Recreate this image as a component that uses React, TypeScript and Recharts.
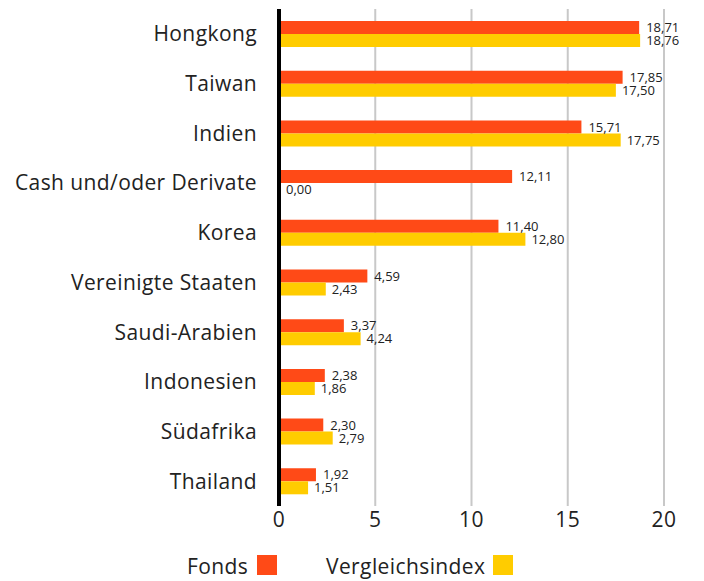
import { BarChart, Bar, XAxis, YAxis, CartesianGrid, Legend, LabelList } from 'recharts'

const CATEGORIES = [
  'Hongkong',
  'Taiwan',
  'Indien',
  'Cash und/oder Derivate',
  'Korea',
  'Vereinigte Staaten',
  'Saudi-Arabien',
  'Indonesien',
  'Südafrika',
  'Thailand',
]
const FONDS = [18.71, 17.85, 15.71, 12.11, 11.4, 4.59, 3.37, 2.38, 2.3, 1.92]
const INDEX = [18.76, 17.5, 17.75, 0.0, 12.8, 2.43, 4.24, 1.86, 2.79, 1.51]
const X_TICKS = [0, 5, 10, 15, 20]

const ORANGE = '#ff4a17'
const YELLOW = '#ffcc00'
const FONT = '"Open Sans", sans-serif'

const chartData = CATEGORIES.map((name, i) => ({ name, fonds: FONDS[i], index: INDEX[i] }))

const fmt = (v: unknown) => Number(v).toFixed(2).replace('.', ',')

const textStyle = { fontSize: 21, fill: '#222', fontFamily: FONT, letterSpacing: 0.4 }

function LegendBox() {
  return (
    <div
      style={{
        position: 'relative',
        height: 30,
        fontFamily: FONT,
        fontSize: 21,
        letterSpacing: 0.4,
        color: '#222',
        lineHeight: '28px',
      }}
    >
      <span style={{ position: 'absolute', left: 187, top: 2 }}>Fonds</span>
      <span style={{ position: 'absolute', left: 257, top: 5, width: 20, height: 20, background: ORANGE }} />
      <span style={{ position: 'absolute', left: 326, top: 2 }}>Vergleichsindex</span>
      <span style={{ position: 'absolute', left: 493, top: 5, width: 20, height: 20, background: YELLOW }} />
    </div>
  )
}

export default function App() {
  return (
    <div style={{ position: 'absolute', left: 0, top: 0, width: 704, height: 581, background: '#fff' }}>
      <BarChart
        width={704}
        height={581}
        data={chartData}
        layout="vertical"
        margin={{ top: 9, right: 40, left: 0, bottom: 15 }}
        barSize={13}
        barGap={0}
        barCategoryGap={12}
      >
        <CartesianGrid horizontal={false} stroke="#c8c8c8" strokeWidth={2} />
        <XAxis
          type="number"
          domain={[0, 20]}
          ticks={X_TICKS}
          tick={textStyle}
          tickLine={false}
          axisLine={false}
          tickMargin={0}
        />
        <YAxis
          type="category"
          dataKey="name"
          width={279}
          tick={textStyle}
          tickLine={false}
          tickSize={0}
          tickMargin={22}
          axisLine={{ stroke: '#000', strokeWidth: 4 }}
        />
        <Legend
          content={() => <LegendBox />}
          wrapperStyle={{ left: 0, top: 550, width: 704 }}
        />
        <Bar dataKey="fonds" fill={ORANGE} isAnimationActive={false}>
          <LabelList
            dataKey="fonds"
            position="right"
            offset={7}
            formatter={fmt}
            style={{ fontSize: 13, fill: '#222', fontFamily: FONT }}
          />
        </Bar>
        <Bar dataKey="index" fill={YELLOW} minPointSize={1} isAnimationActive={false}>
          <LabelList
            dataKey="index"
            position="right"
            offset={6}
            formatter={fmt}
            style={{ fontSize: 13, fill: '#222', fontFamily: FONT }}
          />
        </Bar>
      </BarChart>
    </div>
  )
}
